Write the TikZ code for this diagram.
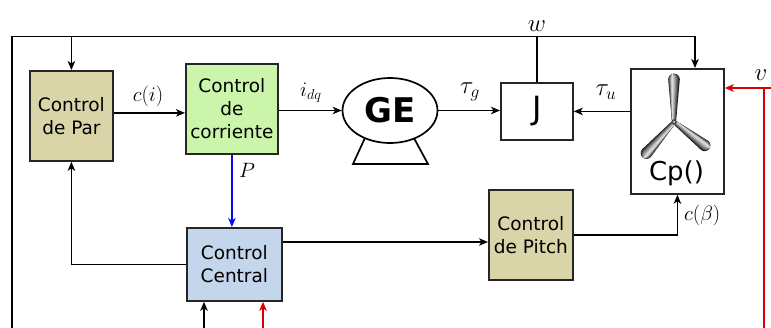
\documentclass[tikz,border=0pt]{standalone}
\usepackage{fontspec}
\newfontfamily\dv{DejaVu Sans}
\usetikzlibrary{arrows.meta,shapes.geometric}
\definecolor{tanfill}{RGB}{217,213,169}
\definecolor{greenfill}{RGB}{202,245,170}
\definecolor{bluefill}{RGB}{196,214,236}
\definecolor{sigred}{RGB}{214,0,0}
\definecolor{sigblue}{RGB}{10,10,245}
% one rotor blade along the local x axis, #1 = length
\newcommand{\rotorbladepath}[1]{(2,-2.2) .. controls (#1*0.45,-4) .. (#1-5.5,-5.8)
      arc[start angle=-90, end angle=90, radius=5.8]
      .. controls (#1*0.45,4) .. (2,2.2) -- cycle}
\begin{document}
\begin{tikzpicture}[x=1pt,y=-1pt,
  blk/.style={draw=black!85, line width=1.8pt, inner sep=0pt, align=center,
    anchor=north west, font=\dv\fontsize{18.5}{23}\selectfont},
  wire/.style={line width=1.7pt},
  conn/.style={line width=1.7pt, -{Stealth[length=9pt,width=7.5pt,inset=2.5pt]}},
  lbl/.style={font=\fontsize{20}{24}\selectfont, inner sep=0pt},
  biglbl/.style={font=\fontsize{26}{30}\selectfont, inner sep=0pt}]
\useasboundingbox (0,0) rectangle (771,327);

% blocks
\node[blk, fill=tanfill, minimum width=83pt, minimum height=90pt] (par) at (29,70) {Control\\de Par};
\node[blk, fill=greenfill, minimum width=92pt, minimum height=90pt] (corr) at (185,63) {Control\\de\\corriente};
\node[blk, minimum width=72pt, minimum height=57pt, font=\dv\fontsize{32}{36}\selectfont] (J) at (500,82) {J};
\node[blk, minimum width=93pt, minimum height=125pt] (cp) at (630,68) {};
\node[blk, fill=tanfill, minimum width=84pt, minimum height=90pt] (pitch) at (488,189) {Control\\de Pitch};
\node[blk, fill=bluefill, minimum width=95pt, minimum height=73pt] (central) at (186,227) {Control\\Central};

% generator: stand first, then the round body over it
\draw[wire] (368.6,130) -- (353,164) -- (428,164) -- (409.6,130);
\node[ellipse, draw=black, fill=white, line width=1.7pt, minimum width=95pt, minimum height=65pt,
  inner sep=0pt, font=\dv\bfseries\fontsize{34}{38}\selectfont] (ge) at (390,110.5) {GE};

% rotor picture inside the Cp block: each blade built from nested lighter layers
\foreach \ang/\len in {90/48, 228.5/47, -37.4/44}{
  \begin{scope}[shift={(674,122)}, x=1pt, y=1pt, rotate=\ang]
    \foreach \s/\c in {1/88, 0.85/72, 0.7/58, 0.55/45, 0.4/33, 0.25/22, 0.12/14}{
      \fill[black!\c, yshift={(1-\s)*1.8pt}, yscale=\s] \rotorbladepath{\len};
    }
  \end{scope}
}
\fill[black!75] (674,122) circle (2.8pt);
\fill[black!25] (674,122) circle (1.3pt);
\node[font=\dv\fontsize{26}{30}\selectfont, inner sep=0pt] (cptext) at (676.5,173) {Cp()};

% outer feedback frame
\coordinate (fl) at (12,330);
\coordinate (tr) at (695,36.5);
\draw[conn] (fl) |- (tr) -- (tr |- cp.north);
\draw[conn] (par.north |- tr) -- (par.north);
\draw[wire] (J.north) -- (J.north |- tr);
\node[biglbl, anchor=south] (wl) at ([yshift=5pt]J.north |- tr) {$w$};

% forward path
\path ([yshift=3pt]par.east) coordinate (a1);
\draw[conn] (a1) -- (a1 -| corr.west);
\node[lbl] (ci) at (148,96) {$c(i)$};
\draw[conn] (corr.east |- ge.west) -- (ge.west);
\node[lbl] (idq) at (311,93) {$i_{dq}$};
\draw[conn] (ge.east) -- (J.west |- ge.east);
\node[biglbl] (tg) at (470,92) {$\tau_g$};
\draw[conn] (cp.west |- J.east) -- (J.east);
\node[biglbl] (tu) at (606,92) {$\tau_u$};

% wind speed input
\coordinate (vr) at (772,88);
\coordinate (vd) at (764,88);
\draw[conn, sigred] (vr) -- (vr -| cp.east);
\draw[wire, sigred] (vd) -- (764,330);
\node[biglbl] (vl) at (761,75) {$v$};

% pitch path
\draw[conn] (pitch.east) -| (cp.south);
\node[lbl, anchor=west] (cb) at (684,215) {$c(\beta)$};
\path ([yshift=-15pt]central.north east) coordinate (a2);
\draw[conn] (a2) -- (a2 -| pitch.west);

% central controller links
\draw[conn, sigblue] (corr.south) -- (corr.south |- central.north);
\node[lbl] (pl) at (247,170) {$P$};
\draw[conn] (central.west) -| (par.south);
\coordinate (in1) at (204,330);
\coordinate (in2) at (263,330);
\draw[conn] (in1) -- (in1 |- central.south);
\draw[conn, sigred] (in2) -- (in2 |- central.south);
\end{tikzpicture}
\end{document}
